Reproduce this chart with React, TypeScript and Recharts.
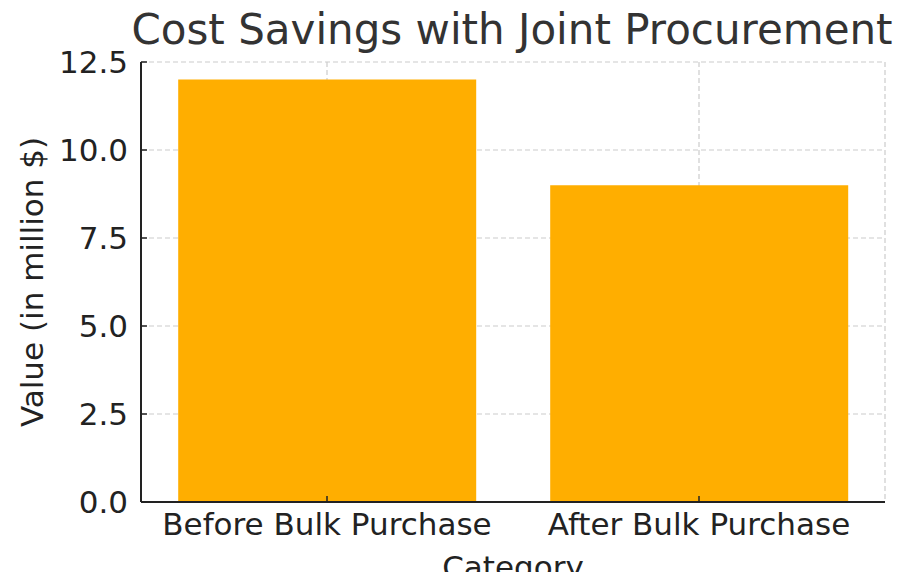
import React from 'react';
import { BarChart, Bar, XAxis, YAxis, CartesianGrid } from 'recharts';

const categories = ['Before Bulk Purchase', 'After Bulk Purchase'];
const values = [12, 9];
const yTicks = [0, 2.5, 5, 7.5, 10, 12.5];

const data = categories.map((name, i) => ({ name, value: values[i] }));

const font = 'DejaVu Sans, sans-serif';

const App: React.FC = () => {
  return (
    <div style={{ position: 'absolute', left: 0, top: 0, width: 910, height: 572, background: '#fff', fontFamily: font }}>
      <div
        style={{
          position: 'absolute',
          left: 0,
          width: 1024,
          top: 5,
          textAlign: 'center',
          fontSize: 42,
          color: '#333',
          lineHeight: '50px',
          whiteSpace: 'nowrap',
        }}
      >
        Cost Savings with Joint Procurement
      </div>
      <BarChart
        width={910}
        height={572}
        data={data}
        margin={{ top: 62, right: 25, bottom: 0, left: 0 }}
        barCategoryGap="10%"
      >
        <CartesianGrid stroke="#cccccc" strokeDasharray="5 3" strokeWidth={1.2} />
        <XAxis
          dataKey="name"
          height={70}
          tickSize={-6}
          tickMargin={17}
          axisLine={{ stroke: '#222', strokeWidth: 2 }}
          tickLine={{ stroke: '#222', strokeWidth: 1.5 }}
          tick={{ fill: '#222', fontSize: 31, fontFamily: font }}
          label={{ value: 'Category', position: 'insideBottom', offset: -6, fill: '#222', fontSize: 31, fontFamily: font }}
        />
        <YAxis
          width={141}
          domain={[0, 12.5]}
          ticks={yTicks}
          tickFormatter={(v: number) => v.toFixed(1)}
          tickSize={-6}
          tickMargin={19}
          axisLine={{ stroke: '#222', strokeWidth: 2 }}
          tickLine={{ stroke: '#222', strokeWidth: 1.5 }}
          tick={{ fill: '#222', fontSize: 31, fontFamily: font }}
          label={{
            value: 'Value (in million $)',
            angle: -90,
            position: 'insideLeft',
            offset: 32,
            fill: '#222',
            fontSize: 31,
            fontFamily: font,
            style: { textAnchor: 'middle' },
          }}
        />
        <Bar dataKey="value" fill="#ffae00" isAnimationActive={false} />
      </BarChart>
    </div>
  );
};

export default App;
